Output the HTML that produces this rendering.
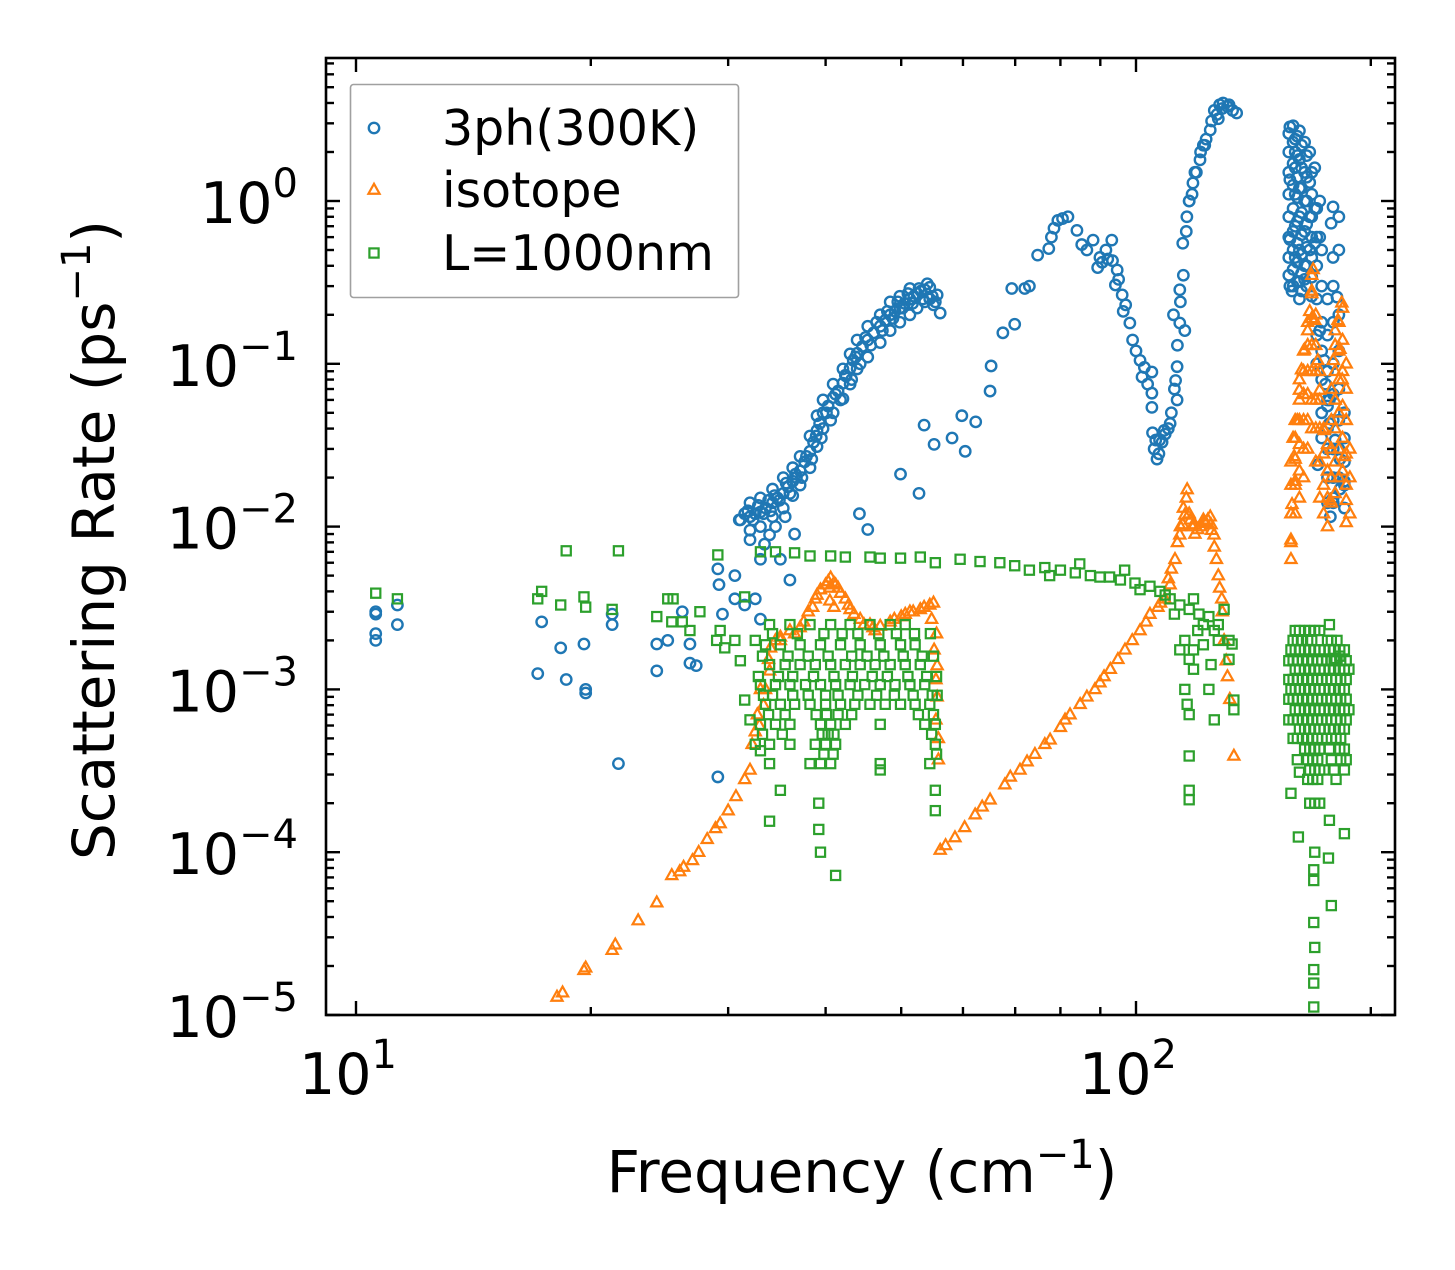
<!DOCTYPE html>
<html><head><meta charset="utf-8"><style>
html,body{margin:0;padding:0;background:#fff;}
svg text{font-family:"DejaVu Sans","Liberation Sans",sans-serif;fill:#000;}
</style></head><body>
<svg id="chart" width="1455" height="1265" viewBox="0 0 1455 1265" xmlns="http://www.w3.org/2000/svg">
<rect x="0" y="0" width="1455" height="1265" fill="#fff"/>
<g id="marks"></g>
<g id="axes"></g>
<g id="legend"></g>
</svg>
<script>
// ---- data (frequency in cm^-1, rate in ps^-1) ----
const threePhFreq = [10.6,10.6,10.6,10.6,11.3,11.3,17.1,17.3,18.3,18.6,19.6,19.7,19.7,21.3,21.3,21.7,24.3,24.3,25.1,26.2,26.8,26.8,27.3,29.1,29.2,29.1,29.5,30.6,
31.1,31.5,32.0,33.0,33.4,33.9,35.0,36.0,32.5,31.5,33.0,30.6,34.5,35.5,36.5,
32.0,32.0,32.0,33.0,33.0,33.0,34.2,34.2,34.2,35.3,35.3,35.3,36.3,36.3,36.3,37.1,37.1,37.1,38.2,38.2,38.2,39.0,39.0,39.0,39.7,39.7,39.7,40.9,40.9,40.9,42.1,42.1,42.1,43.0,43.0,43.0,43.9,43.9,43.9,45.3,45.3,45.3,47.0,47.0,47.0,48.4,48.4,48.4,49.8,49.8,49.8,51.3,51.3,51.3,52.4,52.4,53.6,53.6,54.4,54.4,55.6,56.1,55.0,
32.5,33.5,34.7,35.8,36.7,37.6,38.6,39.3,40.3,41.5,42.5,43.4,44.6,46.1,47.7,49.1,50.5,51.9,53.0,
53.5,55.1,58.1,59.8,60.4,49.9,52.7,44.2,45.3,62.3,
65.2,65.0,67.5,69.9,69.3,72.0,73.0,74.8,77.3,77.9,79.4,81.8,84.0,85.2,88.1,89.9,89.3,93.1,93.3,94.6,94.1,96.0,96.3,98.2,99.0,101.2,101.8,104.8,104.8,104.8,105.0,106.4,
110.6,112.9,112.9,113.8,113.8,114.8,116.2,118.3,120.8,124.5,129.3,134.6,126.0,131.6,112.4,111.7,115.5,107.2,108.7,117.0,119.5,122.5,127.5,
157.5,157.5,157.5,157.5,160,160,160,160,160,160,162,162,162,162,162,162,164.5,164.5,164.5,164.5,164.5,167,167,167,167,169.5,169.5,169.5,172,172,158.5,178.9,177.9,178.9,181,
172,174.3,177,177,182.6,182.6,177.5,185,180,162,164.5,175,176,179,171,
31.0,31.8,32.3,32.8,33.3,33.8,34.0,34.4,34.9,35.6,36.0,36.6,37.3,37.8,38.4,38.9,39.5,40.1,40.6,41.2,41.8,42.4,43.2,43.7,44.3,45.0,45.7,46.5,47.3,48.0,48.8,49.5,50.2,51.0,51.7,52.7,53.3,54.0,54.8,55.3,
105.5,106,107,108,109,110,111,112,113,114,115,116,117,119,121,123,125,127,129,131,133,128,122,118,
78.5,80.5,86.5,90.5,91.5,92,95,97,100,102.5,103.5];
const threePhRate = [3.0e-3,2.9e-3,2.2e-3,2.0e-3,3.3e-3,2.5e-3,1.25e-3,2.6e-3,1.8e-3,1.15e-3,1.9e-3,1.0e-3,0.95e-3,2.5e-3,2.9e-3,3.5e-4,1.9e-3,1.3e-3,2.0e-3,3.0e-3,1.9e-3,1.45e-3,1.4e-3,5.5e-3,4.4e-3,2.9e-4,2.9e-3,5.0e-3,
1.1e-2,1.2e-2,8.3e-3,6.3e-3,7.8e-3,8.9e-3,6.3e-3,4.7e-3,3.6e-3,3.3e-3,2.7e-3,3.6e-3,1.0e-2,1.15e-2,9e-3,
1.15e-2,1.4e-2,0.95e-2,1.23e-2,1.0e-2,1.5e-2,1.4e-2,1.15e-2,1.7e-2,1.6e-2,1.3e-2,2.0e-2,1.9e-2,1.55e-2,2.3e-2,2.2e-2,1.8e-2,2.7e-2,2.9e-2,2.3e-2,3.6e-2,3.9e-2,3.1e-2,4.8e-2,5.0e-2,4.0e-2,6.0e-2,6.2e-2,5.0e-2,7.5e-2,7.6e-2,6.1e-2,9.3e-2,9.4e-2,7.5e-2,1.15e-1,1.16e-1,9.3e-2,1.4e-1,1.4e-1,1.1e-1,1.7e-1,1.7e-1,1.35e-1,2.0e-1,2.0e-1,1.6e-1,2.4e-1,2.2e-1,1.8e-1,2.6e-1,2.5e-1,2.0e-1,2.9e-1,2.7e-1,2.2e-1,2.85e-1,2.4e-1,2.95e-1,2.5e-1,2.65e-1,2.05e-1,2.3e-1,
1.2e-2,1.3e-2,1.5e-2,1.75e-2,2.0e-2,2.5e-2,3.3e-2,4.3e-2,5.5e-2,6.8e-2,8.4e-2,1.05e-1,1.28e-1,1.55e-1,1.85e-1,2.1e-1,2.35e-1,2.6e-1,2.8e-1,
4.2e-2,3.2e-2,3.5e-2,4.8e-2,2.9e-2,2.1e-2,1.6e-2,1.2e-2,9.6e-3,4.4e-2,
9.7e-2,6.8e-2,1.55e-1,1.75e-1,2.9e-1,2.9e-1,3.0e-1,4.65e-1,5.1e-1,6.0e-1,7.6e-1,8.0e-1,6.6e-1,5.4e-1,5.75e-1,4.5e-1,3.9e-1,5.75e-1,4.3e-1,3.77e-1,3.05e-1,2.65e-1,2.1e-1,1.78e-1,1.4e-1,1.05e-1,8.3e-2,8.9e-2,6.6e-2,5.4e-2,3.77e-2,2.6e-2,
4.3e-2,6.0e-2,9.6e-2,1.78e-1,2.85e-1,5.5e-1,8.0e-1,1.29,1.79,2.73,4.0,3.47,3.6,3.9,7.9e-2,2.0e-1,1.6e-1,3.4e-2,3.9e-2,1.0,1.5,2.2,3.2,
2.85,1.35,0.58,0.3,2.4,2.0,1.6,1.1,0.7,0.45,2.7,1.8,1.2,0.8,0.5,0.32,2.3,1.5,1.0,0.65,0.4,2.0,1.3,0.8,0.5,1.6,0.9,0.55,1.0,0.6,0.28,0.92,0.73,0.45,0.257,
0.16,0.105,6.0e-2,4.3e-2,2.6e-2,1.7e-2,1.15e-2,1.9e-2,3.4e-2,0.25,0.33,7.5e-2,5.5e-2,1.4e-2,2.4e-2,
1.1e-2,1.25e-2,1.1e-2,1.35e-2,1.2e-2,1.45e-2,1.25e-2,1.55e-2,1.45e-2,1.85e-2,1.6e-2,2.1e-2,2.0e-2,2.7e-2,2.6e-2,3.6e-2,3.5e-2,5.0e-2,4.5e-2,6.5e-2,6.0e-2,8.5e-2,8.0e-2,1.1e-1,1.0e-1,1.45e-1,1.3e-1,1.8e-1,1.6e-1,2.1e-1,1.9e-1,2.4e-1,2.2e-1,2.7e-1,2.35e-1,2.9e-1,2.5e-1,3.1e-1,2.6e-1,2.4e-1,
3.0e-2,3.4e-2,2.8e-2,3.3e-2,3.7e-2,4.0e-2,5e-2,7e-2,1.3e-1,2.4e-1,3.5e-1,6.5e-1,1.0,1.5,2.0,2.4,3.1,3.4,3.7,3.8,3.6,3.9,2.2,1.1,
6.8e-1,7.8e-1,5.0e-1,4.2e-1,5.0e-1,4.4e-1,3.3e-1,2.3e-1,1.2e-1,9.5e-2,7.5e-2];
// dense right-hand 3ph cluster: one frequency column per entry, rates listed per column
const threePhClusterFreq = [157,159,161,163,165.5,168,170.5,173,176,179,182,185];
const threePhClusterRates = [
 [2.6,2.0,1.5,1.1,0.8,0.6,0.45,0.35],
 [2.9,2.3,1.7,1.25,0.9,0.65,0.5,0.38,0.3],
 [2.5,1.9,1.4,1.05,0.75,0.55,0.42,0.32],
 [2.2,1.6,1.2,0.85,0.62,0.47,0.36,0.28],
 [1.9,1.4,1.0,0.72,0.52,0.4,0.3],
 [1.5,1.1,0.8,0.6,0.45,0.34,0.26],
 [0.9,0.6,0.4,0.25,0.15,0.1],
 [0.5,0.3,0.18,0.12,0.08,0.05,0.035],
 [0.25,0.15,0.09,0.06,0.04,0.03,0.02,0.014],
 [0.3,0.18,0.1,0.065,0.045,0.03,0.02,0.015],
 [0.8,0.5,0.2,0.12,0.07,0.045,0.03,0.02],
 [0.05,0.035,0.025,0.018,0.013]];

const isotopeFreq = [18.1,18.4,19.6,19.7,21.3,21.5,24.3,25.4,26.3,27.0,27.5,28.9,29.3,30.7,31.5,32.0,32.2,32.7,33.0,33.8,34.5,36.0,37.1,38.8,40.0,40.6,41.8,43.0,44.3,46.3,48.4,50.6,52.9,54.4,54.7,55.1,55.4,55.4,55.8,
39.4,41.2,42.4,45.6,51.3,33.5,33.9,35.0,
56.1,58.6,60.3,62.2,65.0,67.9,71.0,74.2,77.6,81.1,84.8,88.6,92.7,96.8,101.2,104.2,108.9,112.2,113.8,115.5,116.3,117.4,120.0,123.6,125.9,126.8,128.8,129.7,131.9,133.5,
76.4,80.0,82.3,89.9,94.8,98.9,106.7,110.6,114.8,118.9,122.4,124.8,
168.7,183.6,162,164.5,167,168,169.5,171,159.5,160,158.5,158,161,163,166,172,174.3,176,177.5,181.5,182.6,183.8,186,185,186,186,180,179,180,158,158,159,
34,35,36.5,37.5,38,39,40.3,41,41.5,42.8,43.5,44.8,46,47,49,50,51.8,53.5,55,55.5,55.6,55.6,55.8,33.3,32.9,32.5,38.5,40.5,40.5,41,
114,115,116,117,118,119,121,122,123,124.5,125,126,127.5,128,129,130.5,131,111,110,113,107.5,103,86.5,91,69,72.5,63.5,57,
23,26,28.2,30];
const isotopeRate = [1.29e-5,1.37e-5,1.88e-5,1.95e-5,2.5e-5,2.7e-5,4.9e-5,7.2e-5,8.1e-5,8.9e-5,1.0e-4,1.4e-4,1.5e-4,2.2e-4,2.8e-4,3.2e-4,4.6e-4,7.0e-4,1.0e-3,1.53e-3,2.0e-3,2.3e-3,2.4e-3,3.6e-3,4.4e-3,4.85e-3,3.9e-3,3.1e-3,2.7e-3,2.3e-3,2.6e-3,2.9e-3,3.1e-3,3.3e-3,2.7e-3,1.75e-3,1.15e-3,6.5e-4,3.7e-4,
4.1e-3,4.4e-3,3.6e-3,2.5e-3,3.0e-3,1.0e-3,1.3e-3,2.0e-3,
1.03e-4,1.23e-4,1.42e-4,1.7e-4,2.1e-4,2.6e-4,3.2e-4,4.0e-4,4.9e-4,6.5e-4,8.1e-4,1.0e-3,1.33e-3,1.75e-3,2.3e-3,2.9e-3,3.6e-3,6.3e-3,8.9e-3,1.18e-2,1.69e-2,1.1e-2,9.6e-3,1.1e-2,8.9e-3,6.3e-3,3.6e-3,2.0e-3,8.7e-4,3.9e-4,
4.6e-4,5.85e-4,7.0e-4,1.1e-3,1.53e-3,2.0e-3,3.2e-3,4.4e-3,1.03e-2,1.03e-2,1.07e-2,1.03e-2,
0.38,0.237,6.9e-2,1.22e-1,0.21,0.28,0.185,0.105,2.7e-2,1.9e-2,1.37e-2,6.3e-3,4.5e-2,9.2e-2,0.16,6.9e-2,3.9e-2,2.2e-2,1.45e-2,0.185,0.123,8e-2,4.5e-2,2.7e-2,1.45e-2,1.06e-2,0.16,0.105,6e-2,8.3e-3,1.2e-2,3.5e-2,
1.8e-3,2.1e-3,2.2e-3,2.6e-3,3.0e-3,3.8e-3,4.6e-3,4.5e-3,4.2e-3,3.3e-3,2.9e-3,2.5e-3,2.4e-3,2.45e-3,2.7e-3,2.8e-3,3.0e-3,3.2e-3,3.4e-3,2.2e-3,1.4e-3,9e-4,5e-4,8e-4,6e-4,5.5e-4,3.2e-3,4.2e-3,3.5e-3,3.2e-3,
1.0e-2,1.3e-2,1.5e-2,1.2e-2,1.0e-2,9e-3,1.0e-2,1.1e-2,1.05e-2,1.15e-2,9.5e-3,7.5e-3,5e-3,4.2e-3,3e-3,1.5e-3,1.2e-3,5.5e-3,4.8e-3,8e-3,3.4e-3,2.6e-3,9e-4,1.2e-3,2.9e-4,3.6e-4,1.9e-4,1.1e-4,
3.8e-5,7.6e-5,1.2e-4,1.8e-4];
const isotopeClusterFreq = [158,160,162,164,166,168,170,172,174,176,178,180,182,184,186,188];
const isotopeClusterRates = [
 [8e-3,1.2e-2,1.8e-2,2.5e-2],
 [1.2e-2,1.8e-2,2.6e-2,3.5e-2,4.5e-2],
 [1.5e-2,2.2e-2,3.2e-2,4.5e-2,6e-2,8e-2],
 [2e-2,3e-2,4.5e-2,6.5e-2,9e-2,0.12],
 [3e-2,4.5e-2,6.5e-2,9e-2,0.13,0.18],
 [4e-2,6e-2,9e-2,0.13,0.19,0.27,0.35],
 [2.5e-2,4e-2,6e-2,9e-2,0.13,0.2],
 [1.5e-2,2.5e-2,4e-2,6e-2,9e-2],
 [1.2e-2,1.8e-2,2.8e-2,4e-2],
 [1.0e-2,1.5e-2,2.2e-2,3.2e-2],
 [1.4e-2,2e-2,3e-2,4.5e-2,7e-2],
 [1.6e-2,2.5e-2,4e-2,6e-2,9e-2,0.13],
 [2e-2,3e-2,5e-2,8e-2,0.12,0.18],
 [2.2e-2,3.5e-2,5.5e-2,9e-2,0.14,0.22],
 [1.8e-2,2.8e-2,4.5e-2,7e-2,0.1],
 [1.2e-2,2e-2,3e-2]];

const boundaryFreq = [10.6,11.3,18.6,21.7,17.1,17.3,18.3,19.6,19.7,21.3,24.3,25.1,25.5,25.4,26.2,26.8,27.6,29.1,29.3,29.0,29.7,
33.0,34.5,36.5,38.2,40.6,42.4,45.6,47.0,49.9,52.9,55.3,59.5,63.1,66.9,69.9,73.0,76.4,80.0,83.6,87.4,89.9,92.5,95.5,99.7,104.2,107.3,110.6,113.8,117,120.4,124,127.5,131.6,
77.5,84.7,96.7,101.2,109,112,118.5,122,126,129.7,132.8,
33.0,33.9,35.0,39.2,39.4,41.2,39.2,47.0,55.3,55.3,31.5,30.6,31.1,32.5,31.5,32.0,
115.5,117,118.5,115.5,116.3,117,117,117,117,124,126,127.5,131.6,133.5,133.5,120,113.8,118.5,122,124.8,
169,169.5,169,169,169,178,176.5,161.5,158,162,169,169,169.5,177,185,177,182.5,179.5];
const boundaryRate = [3.9e-3,3.6e-3,7.1e-3,7.1e-3,3.6e-3,4.0e-3,3.3e-3,3.7e-3,3.2e-3,3.1e-3,2.8e-3,3.6e-3,3.6e-3,2.6e-3,2.6e-3,2.3e-3,3.0e-3,6.7e-3,2.3e-3,2.0e-3,1.8e-3,
7.0e-3,7.0e-3,6.9e-3,6.6e-3,6.6e-3,6.5e-3,6.5e-3,6.4e-3,6.4e-3,6.5e-3,6.0e-3,6.3e-3,6.1e-3,6.0e-3,5.75e-3,5.4e-3,5.6e-3,5.4e-3,5.2e-3,5.0e-3,4.9e-3,4.9e-3,4.7e-3,4.5e-3,4.3e-3,4.0e-3,3.6e-3,3.3e-3,3.1e-3,2.9e-3,2.8e-3,2.5e-3,2.0e-3,
5.0e-3,5.9e-3,5.4e-3,4.1e-3,3.8e-3,2.9e-3,3.6e-3,2.5e-3,2.3e-3,3.1e-3,1.9e-3,
4.2e-4,1.55e-4,2.4e-4,1.38e-4,1.0e-4,7.2e-5,2.0e-4,3.2e-4,2.4e-4,1.8e-4,3.7e-3,2.0e-3,1.5e-3,2.0e-3,8.6e-4,6.5e-4,
2.0e-3,1.53e-3,1.33e-3,1.0e-3,8.1e-4,7.0e-4,3.9e-4,2.4e-4,2.1e-4,1.0e-3,6.5e-4,2.0e-3,1.53e-3,8.6e-4,7.5e-4,2.3e-3,1.75e-3,1.75e-3,1.88e-3,1.42e-3,
3.7e-5,2.6e-5,1.9e-5,1.57e-5,1.12e-5,4.7e-5,9.2e-5,1.24e-4,2.3e-4,3.1e-4,6.7e-5,7.8e-5,1.0e-4,1.57e-4,1.3e-4,2.5e-3,1.6e-3,1.55e-3];
// green cloud between 33 and 56 cm^-1: one rate level per row, frequencies per row
const boundaryCloudRates = [2.5e-3,2.2e-3,1.88e-3,1.6e-3,1.42e-3,1.2e-3,1.07e-3,9.2e-4,8.1e-4,7e-4,6.1e-4,5.3e-4,4.6e-4,4e-4,3.5e-4];
const boundaryCloudFreqs = [
 [33.9,36.0,38.2,40.6,43.0,45.6,48.4,50.6],
 [34.2,36.8,39.8,42.0,44.0,46.8,49.3,52.0,54.5],
 [33.5,35.0,37.1,39.4,41.8,44.3,47.0,49.9,52.1],
 [33.2,35.8,38.0,40.3,43.2,45.2,47.5,50.3,53.2,55.0],
 [33.9,35.5,37.1,38.8,40.6,42.4,44.3,46.3,48.4,50.6,52.9],
 [32.8,34.8,36.3,38.6,41.0,43.3,45.9,48.0,51.0,53.9,55.5],
 [33.0,34.5,36.0,37.7,39.4,41.2,43.0,44.9,47.0,49.1,51.3,53.6],
 [33.3,34.2,36.3,38.0,40.0,41.5,44.0,46.5,49.0,51.8,54.8,55.6],
 [33.5,35.0,36.5,38.2,40.0,41.8,43.6,45.6,47.7,49.9,52.1,54.4],
 [33.8,35.5,38.9,40.1,41.5,43.2,52.6,55.0],
 [33.0,34.5,36.0,39.4,40.6,42.4,47.0,53.6,55.3],
 [33.2,35.2,39.6,40.3,41.0,54.7],
 [32.5,33.9,36.0,38.8,40.0,41.2,55.3],
 [39.8,40.9,55.5],
 [33.9,38.2,39.4,40.6,47.0,54.4]];
// green cluster at 157-188 cm^-1
const boundaryClusterRates = [2.3e-3,2.0e-3,1.75e-3,1.5e-3,1.33e-3,1.15e-3,1.0e-3,8.7e-4,7.5e-4,6.5e-4,5.7e-4,5e-4,4.3e-4,3.7e-4,3.2e-4,2.8e-4,2e-4];
const boundaryClusterFreqs = [
 [160,162,164.5,167,169.5,172],
 [159,161,163,166,168,176,178,181],
 [158,160,162,164.5,167,169.5,172,174.3,177,179.5,182.5,185],
 [157,159,161,163.5,166,168.5,171,173,175.5,178,180.5,183,186],
 [160,162,164.5,167,169.5,172,174.3,177,179.5,182.5,185,187.5],
 [157,159,161,163.5,166,168.5,171,173,175.5,178,180.5,183,186],
 [158,160,162,164.5,167,169.5,172,174.3,177,179.5,182.5,185],
 [157,159,161,163.5,166,168.5,171,173,175.5,178,180.5,183,186],
 [160,162,164.5,167,169.5,172,174.3,177,179.5,182.5,185,187.5],
 [157,159,161,163.5,166,168.5,171,173,175.5,178,180.5,183,186],
 [162,164.5,167,169.5,172,174.3,177,179.5,182.5,185],
 [159,161,163.5,166,168.5,171,175.5,178,180.5,183],
 [164.5,167,169.5,172,177,182.5,185],
 [161,166,168.5,171,178,183,186],
 [167,169.5,172,174.3,179.5,185],
 [166,168.5,171,180.5],
 [167,169.5,172]];

const xTickValues = [10, 100];
const xTickExps = ["1", "2"];
const yTickExps = [0, -1, -2, -3, -4, -5];
const yTickLabels = ["0", "\u22121", "\u22122", "\u22123", "\u22124", "\u22125"];
const legendLabels = ["3ph(300K)", "isotope", "L=1000nm"];

// ---- scales ----
const PL = 326, PR = 1395, PT = 58, PB = 1015;
const xLogMin = 1 - 30/780, xLogMax = 1 + 1039/780;
const yLogMin = -5, yLogMax = 143/162.8;
function xs(f){ return PL + (Math.log10(f) - xLogMin) / (xLogMax - xLogMin) * (PR - PL); }
function ys(r){ return PB - (Math.log10(r) - yLogMin) / (yLogMax - yLogMin) * (PB - PT); }

const NS = "http://www.w3.org/2000/svg";
function mk(tag, attrs, parent){
  const e = document.createElementNS(NS, tag);
  for (const k in attrs) e.setAttribute(k, attrs[k]);
  parent.appendChild(e);
  return e;
}
const marks = document.getElementById('marks');
const axes = document.getElementById('axes');
const legend = document.getElementById('legend');

const C_BLUE = "#1f77b4", C_ORANGE = "#ff7f0e", C_GREEN = "#2ca02c";

function circle(cx, cy, parent){
  return mk('circle', {cx: cx, cy: cy, r: 5.2, fill: 'none', stroke: C_BLUE, 'stroke-width': 2.4}, parent);
}
function tri(cx, cy, parent){
  const s = 6.2;
  return mk('polygon', {points: `${cx},${cy-s} ${cx-s*0.9},${cy+s*0.6} ${cx+s*0.9},${cy+s*0.6}`, fill: 'none', stroke: C_ORANGE, 'stroke-width': 2.2}, parent);
}
function sq(cx, cy, parent){
  return mk('rect', {x: cx-4.6, y: cy-4.6, width: 9.2, height: 9.2, fill: 'none', stroke: C_GREEN, 'stroke-width': 2.2}, parent);
}

const clip = mk('clipPath', {id: 'plotclip'}, document.getElementById('chart'));
mk('rect', {x: PL, y: PT, width: PR-PL, height: PB-PT}, clip);
marks.setAttribute('clip-path', 'url(#plotclip)');

function flattenCols(freqs, ratesPerCol){
  const F = [], R = [];
  for (let i = 0; i < freqs.length; i++) for (const r of ratesPerCol[i]) { F.push(freqs[i]); R.push(r); }
  return [F, R];
}
function flattenRows(rates, freqsPerRow){
  const F = [], R = [];
  for (let i = 0; i < rates.length; i++) for (const f of freqsPerRow[i]) { F.push(f); R.push(rates[i]); }
  return [F, R];
}

// 3ph
const gBlue = mk('g', {}, marks);


const [bcF, bcR] = flattenCols(threePhClusterFreq, threePhClusterRates);
const blueF = threePhFreq.concat(bcF), blueR = threePhRate.concat(bcR);
for (let i = 0; i < blueF.length; i++) {
  const e = circle(xs(blueF[i]), ys(blueR[i]), gBlue);
  
  
}
// isotope
const gOrange = mk('g', {}, marks);


const [icF, icR] = flattenCols(isotopeClusterFreq, isotopeClusterRates);
const orF = isotopeFreq.concat(icF), orR = isotopeRate.concat(icR);
for (let i = 0; i < orF.length; i++) {
  const e = tri(xs(orF[i]), ys(orR[i]), gOrange);
  
  
}
// boundary
const gGreen = mk('g', {}, marks);


const [gcF, gcR] = flattenRows(boundaryCloudRates, boundaryCloudFreqs);
const [grF, grR] = flattenRows(boundaryClusterRates, boundaryClusterFreqs);
const grnF = boundaryFreq.concat(gcF, grF), grnR = boundaryRate.concat(gcR, grR);
for (let i = 0; i < grnF.length; i++) {
  const e = sq(xs(grnF[i]), ys(grnR[i]), gGreen);
  
  
}

// ---- axes ----
const frame = mk('rect', {x: PL, y: PT, width: PR-PL, height: PB-PT, fill: 'none', stroke: '#000', 'stroke-width': 2.6}, axes);



function tickLine(x1, y1, x2, y2){
  const t = mk('line', {x1: x1, y1: y1, x2: x2, y2: y2, stroke: '#000', 'stroke-width': 2.4}, axes);
  
  
}
for (let d = 9; d <= 200; ) {
  const x = xs(d);
  if (x >= PL && x <= PR) {
    const major = (d === 10 || d === 100);
    const L = major ? 14 : 8;
    tickLine(x, PB, x, PB - L);
    tickLine(x, PT, x, PT + L);
  }
  d += (d < 10 ? 1 : d < 100 ? 10 : 100);
}
for (let k = -5; k <= 0; k++) {
  for (let m = 1; m <= 9; m++) {
    const v = m * Math.pow(10, k);
    const y = ys(v);
    if (y < PT || y > PB) continue;
    const L = m === 1 ? 14 : 8;
    tickLine(PL, y, PL + L, y);
    tickLine(PR, y, PR - L, y);
  }
}
for (let i = 0; i < xTickValues.length; i++) {
  const x = xs(xTickValues[i]);
  const t = mk('text', {x: x - 8, y: 1094, 'font-size': 57, 'text-anchor': 'middle'}, axes);
  
  
  t.textContent = '10';
  const s = mk('tspan', {dy: -26, 'font-size': 40}, t);
  s.textContent = xTickExps[i];
}
for (let i = 0; i < yTickExps.length; i++) {
  const y = ys(Math.pow(10, yTickExps[i]));
  const t = mk('text', {x: 298, y: y + 22, 'font-size': 57, 'text-anchor': 'end'}, axes);
  
  
  t.textContent = '10';
  const s = mk('tspan', {dy: -26, 'font-size': 40}, t);
  s.textContent = yTickLabels[i];
}
const xt = mk('text', {x: 862, y: 1192, 'font-size': 58, 'text-anchor': 'middle'}, axes);


xt.innerHTML = 'Frequency (cm<tspan dy="-24" font-size="40">\u22121</tspan><tspan dy="24">)</tspan>';
const yt = mk('text', {x: 0, y: 0, 'font-size': 58, 'text-anchor': 'middle', transform: 'translate(114,540) rotate(-90)'}, axes);


yt.innerHTML = 'Scattering Rate (ps<tspan dy="-24" font-size="40">\u22121</tspan><tspan dy="24">)</tspan>';

// ---- legend ----
const lb = mk('rect', {x: 350.5, y: 84.5, width: 388, height: 213, rx: 3, fill: '#fff', 'fill-opacity': 0.8, stroke: '#a0a0a0', 'stroke-width': 1.6}, legend);


const legY = [128, 190, 253];
const drawers = [circle, tri, sq];
for (let i = 0; i < legendLabels.length; i++) {
  const g = mk('g', {}, legend);
  
  
  drawers[i](374, legY[i], g);
  const t = mk('text', {x: 442, y: legY[i] + 17, 'font-size': 49}, g);
  t.textContent = legendLabels[i];
}
</script>
</body></html>
